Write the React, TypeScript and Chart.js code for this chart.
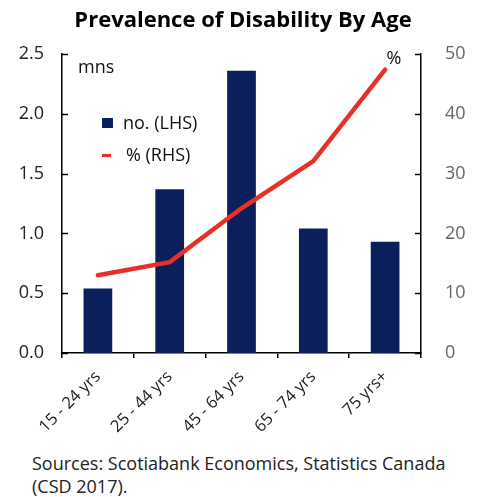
import React, { useEffect, useRef } from "react";
import { Chart, registerables } from "chart.js";

Chart.register(...registerables);

const categories = ["15 - 24 yrs", "25 - 44 yrs", "45 - 64 yrs", "65 - 74 yrs", "75 yrs+"];
const countMillions = [0.54, 1.37, 2.36, 1.04, 0.93];
const percentRHS = [13.0, 15.2, 24.2, 32.1, 47.4];
const leftTicks = [0, 0.5, 1.0, 1.5, 2.0, 2.5];
const rightTicks = [0, 10, 20, 30, 40, 50];

const TITLE = "Prevalence of Disability By Age";
const NAVY = "#0a1f5c";
const RED = "#e8302a";
const FONT = "'Open Sans', sans-serif";

const overlay = {
  id: "overlay",
  afterDraw(chart: any) {
    const { ctx, chartArea } = chart;
    const y = chart.scales.y;
    const y1 = chart.scales.y1;
    ctx.save();
    // title
    ctx.fillStyle = "#000";
    ctx.font = `bold 22px ${FONT}`;
    ctx.textAlign = "center";
    ctx.textBaseline = "alphabetic";
    ctx.fillText(TITLE, 243, 27);
    // inward ticks
    ctx.strokeStyle = "#000";
    ctx.lineWidth = 1.5;
    leftTicks.forEach((v) => {
      const py = Math.round(y.getPixelForValue(v)) + 0.5;
      ctx.beginPath();
      ctx.moveTo(chartArea.left, py);
      ctx.lineTo(chartArea.left + 6, py);
      ctx.stroke();
    });
    rightTicks.forEach((v) => {
      const py = Math.round(y1.getPixelForValue(v)) + 0.5;
      ctx.beginPath();
      ctx.moveTo(chartArea.right, py);
      ctx.lineTo(chartArea.right - 6, py);
      ctx.stroke();
    });
    // unit labels
    ctx.font = `18px ${FONT}`;
    ctx.fillStyle = "#111";
    ctx.textAlign = "left";
    ctx.fillText("mns", 78, 73);
    ctx.textAlign = "center";
    ctx.fillText("%", 394, 64);
    // legend
    ctx.fillStyle = NAVY;
    ctx.fillRect(102, 118, 11, 10);
    ctx.fillStyle = RED;
    ctx.fillRect(102, 154, 9, 3);
    ctx.fillStyle = "#111";
    ctx.textAlign = "left";
    ctx.fillText("no. (LHS)", 123, 129);
    ctx.fillText("% (RHS)", 126, 161);
    ctx.restore();
  },
};

export default function App() {
  const ref = useRef<HTMLCanvasElement>(null);
  useEffect(() => {
    document.body.style.margin = "0";
    const chart = new Chart(ref.current as HTMLCanvasElement, {
      type: "bar",
      data: {
        labels: categories,
        datasets: [
          {
            type: "line",
            label: "% (RHS)",
            data: percentRHS,
            yAxisID: "y1",
            borderColor: RED,
            backgroundColor: RED,
            borderWidth: 4.5,
            pointRadius: 0,
            borderCapStyle: "round",
            tension: 0,
            order: 0,
          } as any,
          {
            type: "bar",
            label: "no. (LHS)",
            data: countMillions,
            yAxisID: "y",
            backgroundColor: NAVY,
            barPercentage: 0.4,
            categoryPercentage: 1,
            order: 1,
          },
        ],
      },
      options: {
        responsive: false,
        animation: false,
        devicePixelRatio: 1,
        layout: { padding: { top: 54, left: 0, right: 0, bottom: 0 } },
        plugins: { legend: { display: false }, title: { display: false }, tooltip: { enabled: false } },
        scales: {
          x: {
            grid: { display: true, drawOnChartArea: false, drawTicks: true, tickLength: 5, color: "#000", lineWidth: 1.5, offset: true },
            border: { display: true, color: "#000", width: 1.5 },
            ticks: { color: "#222", font: { family: FONT, size: 16.5 }, maxRotation: 45, minRotation: 45, padding: 9 },
            afterFit: (s: any) => { s.height = 87; },
          },
          y: {
            position: "left",
            min: 0,
            max: 2.5,
            grid: { display: false, drawTicks: false },
            border: { display: true, color: "#000", width: 1.5 },
            ticks: { stepSize: 0.5, padding: 18, color: "#222", font: { family: FONT, size: 18 }, callback: (v: any) => Number(v).toFixed(1) },
            afterFit: (s: any) => { s.width = 62; },
          },
          y1: {
            position: "right",
            min: 0,
            max: 50,
            grid: { display: false, drawTicks: false },
            border: { display: true, color: "#000", width: 1.5 },
            ticks: { stepSize: 10, padding: 24, color: "#666", font: { family: FONT, size: 18 } },
            afterFit: (s: any) => { s.width = 61; },
          },
        },
      },
      plugins: [overlay],
    });
    return () => chart.destroy();
  }, []);
  return (
    <div style={{ position: "relative", width: 482, height: 497, background: "#fff" }}>
      <canvas ref={ref} width={482} height={440} style={{ display: "block" }} />
      <div
        style={{
          position: "absolute",
          left: 32,
          top: 452,
          fontFamily: FONT,
          fontSize: 18,
          lineHeight: "23px",
          color: "#222",
          whiteSpace: "nowrap",
        }}
      >
        Sources: Scotiabank Economics, Statistics Canada
        <br />
        (CSD 2017).
      </div>
    </div>
  );
}
